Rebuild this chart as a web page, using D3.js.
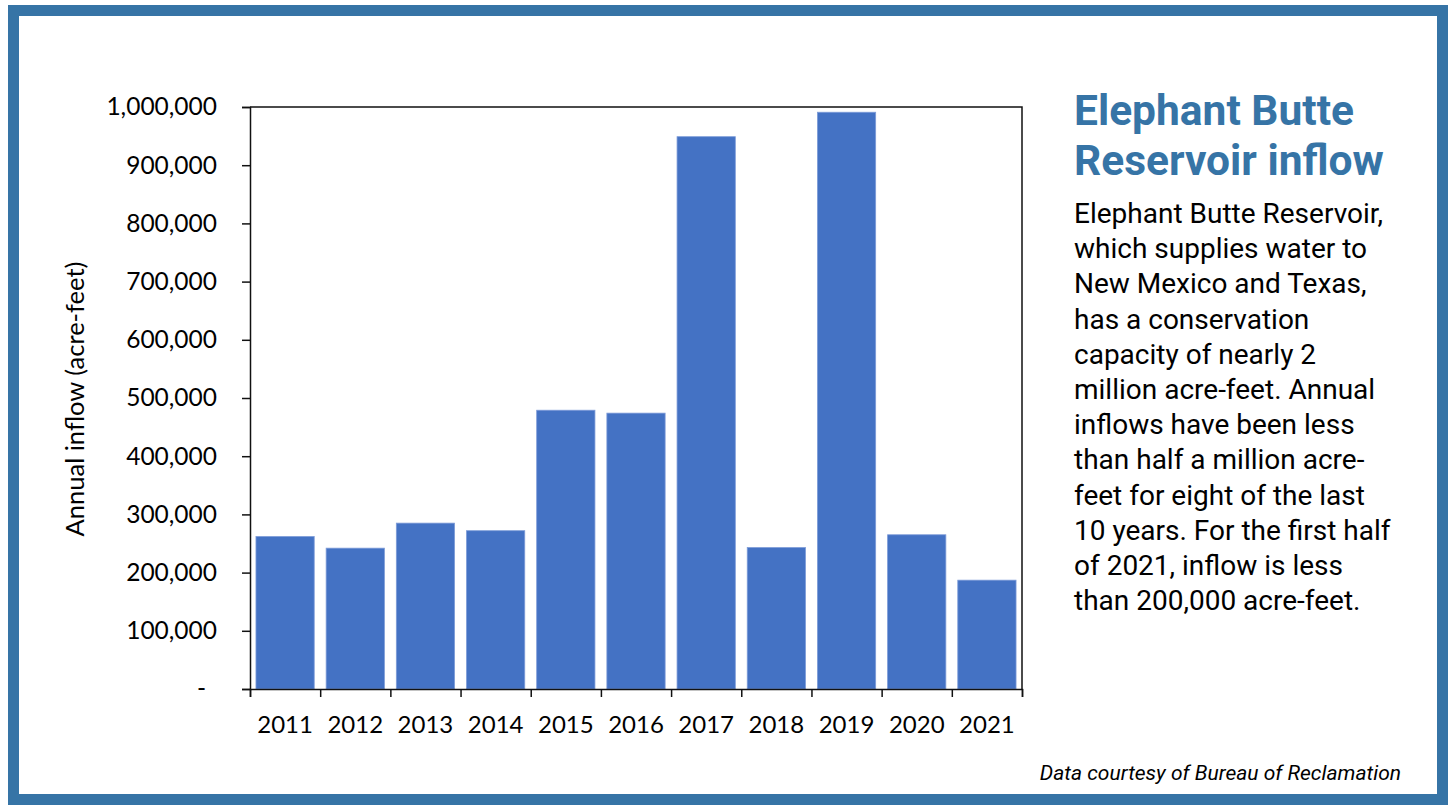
<!DOCTYPE html>
<html>
<head>
<meta charset="utf-8">
<script src="https://cdn.jsdelivr.net/npm/d3@7"></script>
<style>
  body { margin: 0; background: #fff; }
  svg { display: block; }
</style>
</head>
<body>
<div id="chart"></div>
<script>
const years = ["2011", "2012", "2013", "2014", "2015", "2016", "2017", "2018", "2019", "2020", "2021"];
const inflow = [262000, 242000, 285000, 272000, 479000, 474000, 949000, 243000, 991000, 265000, 187000];
const yTicks = [0, 100000, 200000, 300000, 400000, 500000, 600000, 700000, 800000, 900000, 1000000];

const titleLines = ["Elephant Butte", "Reservoir inflow"];
const bodyLines = [
  "Elephant Butte Reservoir,",
  "which supplies water to",
  "New Mexico and Texas,",
  "has a conservation",
  "capacity of nearly 2",
  "million acre-feet. Annual",
  "inflows have been less",
  "than half a million acre-",
  "feet for eight of the last",
  "10 years. For the first half",
  "of 2021, inflow is less",
  "than 200,000 acre-feet."
];
const sourceNote = "Data courtesy of Bureau of Reclamation";

const W = 1450, H = 805;
const plot = { left: 250, right: 1022, top: 107, bottom: 689 };
const tickFont = "Lato, 'Open Sans', sans-serif";
const blue = "#3674a6";

const svg = d3.select("#chart").append("svg")
  .attr("width", W)
  .attr("height", H);

// outer frame
svg.append("rect")
  .attr("x", 13.5).attr("y", 10.5)
  .attr("width", 1429).attr("height", 789)
  .attr("fill", "none")
  .attr("stroke", blue)
  .attr("stroke-width", 11);

const x = d3.scaleBand()
  .domain(years)
  .range([plot.left, plot.right])
  .paddingInner(0.17)
  .paddingOuter(0.085);

const xEdges = d3.scaleLinear()
  .domain([0, years.length])
  .range([plot.left, plot.right]);

const y = d3.scaleLinear()
  .domain([0, 1000000])
  .range([plot.bottom, plot.top]);

// bars
svg.append("g")
  .selectAll("rect")
  .data(inflow)
  .join("rect")
  .attr("x", (d, i) => x(years[i]))
  .attr("y", d => y(d))
  .attr("width", x.bandwidth())
  .attr("height", d => y(0) - y(d))
  .attr("fill", "#4472c4")
  .attr("stroke", "#7d9bd8")
  .attr("stroke-width", 0.8);

// plot box (top and right)
svg.append("path")
  .attr("d", `M${plot.left},${plot.top}H${plot.right}V${plot.bottom}`)
  .attr("fill", "none")
  .attr("stroke", "#111")
  .attr("stroke-width", 1.5);

// y axis
const yAxis = svg.append("g")
  .attr("transform", `translate(${plot.left},0)`)
  .call(d3.axisLeft(y)
    .tickValues(yTicks)
    .tickSize(8)
    .tickPadding(25)
    .tickFormat(d => d === 0 ? "-" : d3.format(",")(d)));
yAxis.selectAll("path, line").attr("stroke", "#111").attr("stroke-width", 1.5);
yAxis.selectAll("text")
  .attr("font-family", tickFont)
  .attr("font-size", 24.5)
  .attr("fill", "#000")
  .attr("dx", d => d === 0 ? -11 : 0);

// x axis: boundary ticks
const xTickAxis = svg.append("g")
  .attr("transform", `translate(0,${plot.bottom})`)
  .call(d3.axisBottom(xEdges)
    .tickValues(d3.range(years.length + 1))
    .tickSize(8)
    .tickFormat(""));
xTickAxis.selectAll("path, line").attr("stroke", "#111").attr("stroke-width", 1.5);

// x axis: year labels
const xLabelAxis = svg.append("g")
  .attr("transform", `translate(0,${plot.bottom})`)
  .call(d3.axisBottom(x).tickSize(0).tickPadding(27));
xLabelAxis.select(".domain").remove();
xLabelAxis.selectAll("text")
  .attr("font-family", tickFont)
  .attr("font-size", 24)
  .attr("fill", "#000");

// y axis title
svg.append("text")
  .attr("transform", `translate(84,${(plot.top + plot.bottom) / 2 + 1}) rotate(-90)`)
  .attr("text-anchor", "middle")
  .attr("font-family", tickFont)
  .attr("font-size", 25.5)
  .attr("fill", "#000")
  .text("Annual inflow (acre-feet)");

// title
svg.append("g")
  .selectAll("text")
  .data(titleLines)
  .join("text")
  .attr("x", 1074)
  .attr("y", (d, i) => 125 + i * 50)
  .attr("font-family", "Roboto, sans-serif")
  .attr("font-weight", 700)
  .attr("font-size", 42.5)
  .attr("fill", blue)
  .text(d => d);

// description
svg.append("g")
  .selectAll("text")
  .data(bodyLines)
  .join("text")
  .attr("x", 1074)
  .attr("y", (d, i) => 223 + i * 35.2)
  .attr("font-family", "Roboto, sans-serif")
  .attr("font-size", 28)
  .attr("fill", "#000")
  .text(d => d);

// source note
svg.append("text")
  .attr("x", 1401)
  .attr("y", 780)
  .attr("text-anchor", "end")
  .attr("font-family", "Roboto, sans-serif")
  .attr("font-style", "italic")
  .attr("font-size", 21)
  .attr("fill", "#000")
  .text(sourceNote);
</script>
</body>
</html>
